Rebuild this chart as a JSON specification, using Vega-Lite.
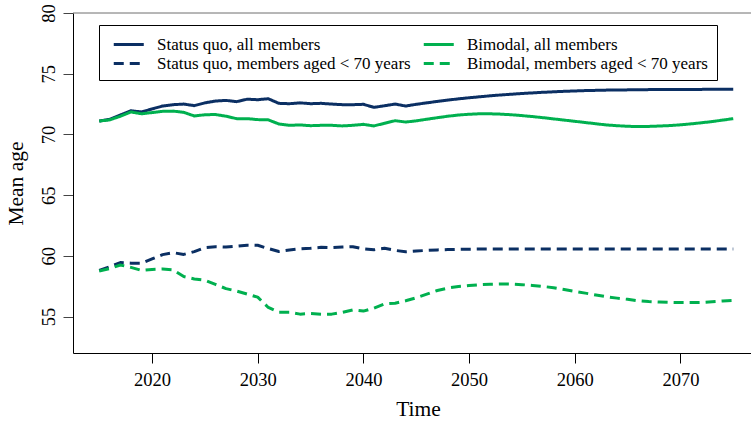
{
  "$schema": "https://vega.github.io/schema/vega-lite/v6.json",
  "width": 678,
  "height": 340,
  "autosize": {"type": "none"},
  "padding": {"left": 73, "top": 13, "right": 0, "bottom": 69},
  "background": "white",
  "config": {
    "font": "Liberation Serif",
    "view": {"stroke": null},
    "axis": {
      "grid": false,
      "labelFont": "Liberation Serif",
      "titleFont": "Liberation Serif",
      "labelColor": "black",
      "titleColor": "black",
      "titleFontWeight": "normal",
      "labelFontSize": 18.5,
      "titleFontSize": 21.5,
      "domainColor": "black",
      "domainWidth": 1,
      "tickSize": 10,
      "tickWidth": 1
    },
    "axisX": {"tickColor": "black", "labelPadding": 7, "titlePadding": 10},
    "axisY": {"tickColor": "#444", "labelPadding": 5, "titlePadding": 12, "labelAngle": -90, "labelAlign": "center", "labelBaseline": "bottom"}
  },
  "layer": [
    {
      "data": {"values": [{"age": 80}]},
      "mark": {"type": "rule", "color": "#6e6e6e", "strokeWidth": 1},
      "encoding": {
        "y": {
          "field": "age",
          "type": "quantitative",
          "scale": {"domain": [52, 80], "nice": false, "zero": false},
          "axis": {
            "values": [55, 60, 65, 70, 75, 80],
            "labelAngle": -90,
            "title": "Mean age",
            "encode": {"labels": {"update": {"angle": {"value": -90}, "align": {"value": "center"}, "baseline": {"value": "bottom"}}}}
          }
        }
      }
    },
    {
      "data": {"values": [
        {"year": 2015, "series": "Status quo, all members", "age": 71.1},
        {"year": 2016, "series": "Status quo, all members", "age": 71.25},
        {"year": 2017, "series": "Status quo, all members", "age": 71.6},
        {"year": 2018, "series": "Status quo, all members", "age": 71.95},
        {"year": 2019, "series": "Status quo, all members", "age": 71.85},
        {"year": 2020, "series": "Status quo, all members", "age": 72.1},
        {"year": 2021, "series": "Status quo, all members", "age": 72.34},
        {"year": 2022, "series": "Status quo, all members", "age": 72.45},
        {"year": 2023, "series": "Status quo, all members", "age": 72.5},
        {"year": 2024, "series": "Status quo, all members", "age": 72.37},
        {"year": 2025, "series": "Status quo, all members", "age": 72.6},
        {"year": 2026, "series": "Status quo, all members", "age": 72.75},
        {"year": 2027, "series": "Status quo, all members", "age": 72.8},
        {"year": 2028, "series": "Status quo, all members", "age": 72.7},
        {"year": 2029, "series": "Status quo, all members", "age": 72.9},
        {"year": 2030, "series": "Status quo, all members", "age": 72.86},
        {"year": 2031, "series": "Status quo, all members", "age": 72.94},
        {"year": 2032, "series": "Status quo, all members", "age": 72.56},
        {"year": 2033, "series": "Status quo, all members", "age": 72.53},
        {"year": 2034, "series": "Status quo, all members", "age": 72.6},
        {"year": 2035, "series": "Status quo, all members", "age": 72.53},
        {"year": 2036, "series": "Status quo, all members", "age": 72.56},
        {"year": 2037, "series": "Status quo, all members", "age": 72.5},
        {"year": 2038, "series": "Status quo, all members", "age": 72.45},
        {"year": 2039, "series": "Status quo, all members", "age": 72.45},
        {"year": 2040, "series": "Status quo, all members", "age": 72.48},
        {"year": 2041, "series": "Status quo, all members", "age": 72.23},
        {"year": 2042, "series": "Status quo, all members", "age": 72.36},
        {"year": 2043, "series": "Status quo, all members", "age": 72.5},
        {"year": 2044, "series": "Status quo, all members", "age": 72.34},
        {"year": 2045, "series": "Status quo, all members", "age": 72.48},
        {"year": 2046, "series": "Status quo, all members", "age": 72.6},
        {"year": 2047, "series": "Status quo, all members", "age": 72.72},
        {"year": 2048, "series": "Status quo, all members", "age": 72.83},
        {"year": 2049, "series": "Status quo, all members", "age": 72.93},
        {"year": 2050, "series": "Status quo, all members", "age": 73.02},
        {"year": 2051, "series": "Status quo, all members", "age": 73.1},
        {"year": 2052, "series": "Status quo, all members", "age": 73.18},
        {"year": 2053, "series": "Status quo, all members", "age": 73.25},
        {"year": 2054, "series": "Status quo, all members", "age": 73.31},
        {"year": 2055, "series": "Status quo, all members", "age": 73.37},
        {"year": 2056, "series": "Status quo, all members", "age": 73.42},
        {"year": 2057, "series": "Status quo, all members", "age": 73.47},
        {"year": 2058, "series": "Status quo, all members", "age": 73.51},
        {"year": 2059, "series": "Status quo, all members", "age": 73.55},
        {"year": 2060, "series": "Status quo, all members", "age": 73.58},
        {"year": 2061, "series": "Status quo, all members", "age": 73.61},
        {"year": 2062, "series": "Status quo, all members", "age": 73.63},
        {"year": 2063, "series": "Status quo, all members", "age": 73.65},
        {"year": 2064, "series": "Status quo, all members", "age": 73.66},
        {"year": 2065, "series": "Status quo, all members", "age": 73.67},
        {"year": 2066, "series": "Status quo, all members", "age": 73.68},
        {"year": 2067, "series": "Status quo, all members", "age": 73.69},
        {"year": 2068, "series": "Status quo, all members", "age": 73.7},
        {"year": 2069, "series": "Status quo, all members", "age": 73.71},
        {"year": 2070, "series": "Status quo, all members", "age": 73.71},
        {"year": 2071, "series": "Status quo, all members", "age": 73.71},
        {"year": 2072, "series": "Status quo, all members", "age": 73.71},
        {"year": 2073, "series": "Status quo, all members", "age": 73.72},
        {"year": 2074, "series": "Status quo, all members", "age": 73.72},
        {"year": 2075, "series": "Status quo, all members", "age": 73.72},

        {"year": 2015, "series": "Bimodal, all members", "age": 71.1},
        {"year": 2016, "series": "Bimodal, all members", "age": 71.2},
        {"year": 2017, "series": "Bimodal, all members", "age": 71.5},
        {"year": 2018, "series": "Bimodal, all members", "age": 71.85},
        {"year": 2019, "series": "Bimodal, all members", "age": 71.7},
        {"year": 2020, "series": "Bimodal, all members", "age": 71.8},
        {"year": 2021, "series": "Bimodal, all members", "age": 71.9},
        {"year": 2022, "series": "Bimodal, all members", "age": 71.92},
        {"year": 2023, "series": "Bimodal, all members", "age": 71.82},
        {"year": 2024, "series": "Bimodal, all members", "age": 71.52},
        {"year": 2025, "series": "Bimodal, all members", "age": 71.62},
        {"year": 2026, "series": "Bimodal, all members", "age": 71.64},
        {"year": 2027, "series": "Bimodal, all members", "age": 71.5},
        {"year": 2028, "series": "Bimodal, all members", "age": 71.3},
        {"year": 2029, "series": "Bimodal, all members", "age": 71.3},
        {"year": 2030, "series": "Bimodal, all members", "age": 71.22},
        {"year": 2031, "series": "Bimodal, all members", "age": 71.2},
        {"year": 2032, "series": "Bimodal, all members", "age": 70.86},
        {"year": 2033, "series": "Bimodal, all members", "age": 70.75},
        {"year": 2034, "series": "Bimodal, all members", "age": 70.78},
        {"year": 2035, "series": "Bimodal, all members", "age": 70.72},
        {"year": 2036, "series": "Bimodal, all members", "age": 70.75},
        {"year": 2037, "series": "Bimodal, all members", "age": 70.75},
        {"year": 2038, "series": "Bimodal, all members", "age": 70.7},
        {"year": 2039, "series": "Bimodal, all members", "age": 70.75},
        {"year": 2040, "series": "Bimodal, all members", "age": 70.83},
        {"year": 2041, "series": "Bimodal, all members", "age": 70.7},
        {"year": 2042, "series": "Bimodal, all members", "age": 70.92},
        {"year": 2043, "series": "Bimodal, all members", "age": 71.13},
        {"year": 2044, "series": "Bimodal, all members", "age": 71.02},
        {"year": 2045, "series": "Bimodal, all members", "age": 71.12},
        {"year": 2046, "series": "Bimodal, all members", "age": 71.25},
        {"year": 2047, "series": "Bimodal, all members", "age": 71.38},
        {"year": 2048, "series": "Bimodal, all members", "age": 71.5},
        {"year": 2049, "series": "Bimodal, all members", "age": 71.6},
        {"year": 2050, "series": "Bimodal, all members", "age": 71.66},
        {"year": 2051, "series": "Bimodal, all members", "age": 71.7},
        {"year": 2052, "series": "Bimodal, all members", "age": 71.7},
        {"year": 2053, "series": "Bimodal, all members", "age": 71.67},
        {"year": 2054, "series": "Bimodal, all members", "age": 71.62},
        {"year": 2055, "series": "Bimodal, all members", "age": 71.55},
        {"year": 2056, "series": "Bimodal, all members", "age": 71.47},
        {"year": 2057, "series": "Bimodal, all members", "age": 71.38},
        {"year": 2058, "series": "Bimodal, all members", "age": 71.28},
        {"year": 2059, "series": "Bimodal, all members", "age": 71.18},
        {"year": 2060, "series": "Bimodal, all members", "age": 71.08},
        {"year": 2061, "series": "Bimodal, all members", "age": 70.98},
        {"year": 2062, "series": "Bimodal, all members", "age": 70.88},
        {"year": 2063, "series": "Bimodal, all members", "age": 70.78},
        {"year": 2064, "series": "Bimodal, all members", "age": 70.72},
        {"year": 2065, "series": "Bimodal, all members", "age": 70.67},
        {"year": 2066, "series": "Bimodal, all members", "age": 70.65},
        {"year": 2067, "series": "Bimodal, all members", "age": 70.66},
        {"year": 2068, "series": "Bimodal, all members", "age": 70.69},
        {"year": 2069, "series": "Bimodal, all members", "age": 70.73},
        {"year": 2070, "series": "Bimodal, all members", "age": 70.79},
        {"year": 2071, "series": "Bimodal, all members", "age": 70.87},
        {"year": 2072, "series": "Bimodal, all members", "age": 70.96},
        {"year": 2073, "series": "Bimodal, all members", "age": 71.06},
        {"year": 2074, "series": "Bimodal, all members", "age": 71.18},
        {"year": 2075, "series": "Bimodal, all members", "age": 71.3},

        {"year": 2015, "series": "Status quo, members aged < 70 years", "age": 58.8},
        {"year": 2016, "series": "Status quo, members aged < 70 years", "age": 59.1},
        {"year": 2017, "series": "Status quo, members aged < 70 years", "age": 59.45},
        {"year": 2018, "series": "Status quo, members aged < 70 years", "age": 59.4},
        {"year": 2019, "series": "Status quo, members aged < 70 years", "age": 59.4},
        {"year": 2020, "series": "Status quo, members aged < 70 years", "age": 59.75},
        {"year": 2021, "series": "Status quo, members aged < 70 years", "age": 60.1},
        {"year": 2022, "series": "Status quo, members aged < 70 years", "age": 60.26},
        {"year": 2023, "series": "Status quo, members aged < 70 years", "age": 60.12},
        {"year": 2024, "series": "Status quo, members aged < 70 years", "age": 60.35},
        {"year": 2025, "series": "Status quo, members aged < 70 years", "age": 60.68},
        {"year": 2026, "series": "Status quo, members aged < 70 years", "age": 60.75},
        {"year": 2027, "series": "Status quo, members aged < 70 years", "age": 60.72},
        {"year": 2028, "series": "Status quo, members aged < 70 years", "age": 60.79},
        {"year": 2029, "series": "Status quo, members aged < 70 years", "age": 60.88},
        {"year": 2030, "series": "Status quo, members aged < 70 years", "age": 60.87},
        {"year": 2031, "series": "Status quo, members aged < 70 years", "age": 60.6},
        {"year": 2032, "series": "Status quo, members aged < 70 years", "age": 60.36},
        {"year": 2033, "series": "Status quo, members aged < 70 years", "age": 60.48},
        {"year": 2034, "series": "Status quo, members aged < 70 years", "age": 60.58},
        {"year": 2035, "series": "Status quo, members aged < 70 years", "age": 60.63},
        {"year": 2036, "series": "Status quo, members aged < 70 years", "age": 60.7},
        {"year": 2037, "series": "Status quo, members aged < 70 years", "age": 60.68},
        {"year": 2038, "series": "Status quo, members aged < 70 years", "age": 60.72},
        {"year": 2039, "series": "Status quo, members aged < 70 years", "age": 60.75},
        {"year": 2040, "series": "Status quo, members aged < 70 years", "age": 60.58},
        {"year": 2041, "series": "Status quo, members aged < 70 years", "age": 60.5},
        {"year": 2042, "series": "Status quo, members aged < 70 years", "age": 60.62},
        {"year": 2043, "series": "Status quo, members aged < 70 years", "age": 60.45},
        {"year": 2044, "series": "Status quo, members aged < 70 years", "age": 60.34},
        {"year": 2045, "series": "Status quo, members aged < 70 years", "age": 60.4},
        {"year": 2046, "series": "Status quo, members aged < 70 years", "age": 60.45},
        {"year": 2047, "series": "Status quo, members aged < 70 years", "age": 60.49},
        {"year": 2048, "series": "Status quo, members aged < 70 years", "age": 60.52},
        {"year": 2049, "series": "Status quo, members aged < 70 years", "age": 60.54},
        {"year": 2050, "series": "Status quo, members aged < 70 years", "age": 60.55},
        {"year": 2051, "series": "Status quo, members aged < 70 years", "age": 60.56},
        {"year": 2052, "series": "Status quo, members aged < 70 years", "age": 60.56},
        {"year": 2053, "series": "Status quo, members aged < 70 years", "age": 60.56},
        {"year": 2054, "series": "Status quo, members aged < 70 years", "age": 60.56},
        {"year": 2055, "series": "Status quo, members aged < 70 years", "age": 60.56},
        {"year": 2056, "series": "Status quo, members aged < 70 years", "age": 60.56},
        {"year": 2057, "series": "Status quo, members aged < 70 years", "age": 60.56},
        {"year": 2058, "series": "Status quo, members aged < 70 years", "age": 60.56},
        {"year": 2059, "series": "Status quo, members aged < 70 years", "age": 60.56},
        {"year": 2060, "series": "Status quo, members aged < 70 years", "age": 60.56},
        {"year": 2061, "series": "Status quo, members aged < 70 years", "age": 60.56},
        {"year": 2062, "series": "Status quo, members aged < 70 years", "age": 60.56},
        {"year": 2063, "series": "Status quo, members aged < 70 years", "age": 60.56},
        {"year": 2064, "series": "Status quo, members aged < 70 years", "age": 60.56},
        {"year": 2065, "series": "Status quo, members aged < 70 years", "age": 60.56},
        {"year": 2066, "series": "Status quo, members aged < 70 years", "age": 60.56},
        {"year": 2067, "series": "Status quo, members aged < 70 years", "age": 60.56},
        {"year": 2068, "series": "Status quo, members aged < 70 years", "age": 60.56},
        {"year": 2069, "series": "Status quo, members aged < 70 years", "age": 60.56},
        {"year": 2070, "series": "Status quo, members aged < 70 years", "age": 60.56},
        {"year": 2071, "series": "Status quo, members aged < 70 years", "age": 60.56},
        {"year": 2072, "series": "Status quo, members aged < 70 years", "age": 60.56},
        {"year": 2073, "series": "Status quo, members aged < 70 years", "age": 60.56},
        {"year": 2074, "series": "Status quo, members aged < 70 years", "age": 60.56},
        {"year": 2075, "series": "Status quo, members aged < 70 years", "age": 60.56},

        {"year": 2015, "series": "Bimodal, members aged < 70 years", "age": 58.75},
        {"year": 2016, "series": "Bimodal, members aged < 70 years", "age": 58.95},
        {"year": 2017, "series": "Bimodal, members aged < 70 years", "age": 59.25},
        {"year": 2018, "series": "Bimodal, members aged < 70 years", "age": 59.05},
        {"year": 2019, "series": "Bimodal, members aged < 70 years", "age": 58.8},
        {"year": 2020, "series": "Bimodal, members aged < 70 years", "age": 58.88},
        {"year": 2021, "series": "Bimodal, members aged < 70 years", "age": 58.92},
        {"year": 2022, "series": "Bimodal, members aged < 70 years", "age": 58.85},
        {"year": 2023, "series": "Bimodal, members aged < 70 years", "age": 58.3},
        {"year": 2024, "series": "Bimodal, members aged < 70 years", "age": 58.1},
        {"year": 2025, "series": "Bimodal, members aged < 70 years", "age": 58.0},
        {"year": 2026, "series": "Bimodal, members aged < 70 years", "age": 57.65},
        {"year": 2027, "series": "Bimodal, members aged < 70 years", "age": 57.3},
        {"year": 2028, "series": "Bimodal, members aged < 70 years", "age": 57.1},
        {"year": 2029, "series": "Bimodal, members aged < 70 years", "age": 56.85},
        {"year": 2030, "series": "Bimodal, members aged < 70 years", "age": 56.6},
        {"year": 2031, "series": "Bimodal, members aged < 70 years", "age": 55.75},
        {"year": 2032, "series": "Bimodal, members aged < 70 years", "age": 55.35},
        {"year": 2033, "series": "Bimodal, members aged < 70 years", "age": 55.35},
        {"year": 2034, "series": "Bimodal, members aged < 70 years", "age": 55.2},
        {"year": 2035, "series": "Bimodal, members aged < 70 years", "age": 55.25},
        {"year": 2036, "series": "Bimodal, members aged < 70 years", "age": 55.2},
        {"year": 2037, "series": "Bimodal, members aged < 70 years", "age": 55.2},
        {"year": 2038, "series": "Bimodal, members aged < 70 years", "age": 55.35},
        {"year": 2039, "series": "Bimodal, members aged < 70 years", "age": 55.55},
        {"year": 2040, "series": "Bimodal, members aged < 70 years", "age": 55.45},
        {"year": 2041, "series": "Bimodal, members aged < 70 years", "age": 55.7},
        {"year": 2042, "series": "Bimodal, members aged < 70 years", "age": 56.05},
        {"year": 2043, "series": "Bimodal, members aged < 70 years", "age": 56.1},
        {"year": 2044, "series": "Bimodal, members aged < 70 years", "age": 56.3},
        {"year": 2045, "series": "Bimodal, members aged < 70 years", "age": 56.55},
        {"year": 2046, "series": "Bimodal, members aged < 70 years", "age": 56.85},
        {"year": 2047, "series": "Bimodal, members aged < 70 years", "age": 57.15},
        {"year": 2048, "series": "Bimodal, members aged < 70 years", "age": 57.35},
        {"year": 2049, "series": "Bimodal, members aged < 70 years", "age": 57.47},
        {"year": 2050, "series": "Bimodal, members aged < 70 years", "age": 57.55},
        {"year": 2051, "series": "Bimodal, members aged < 70 years", "age": 57.62},
        {"year": 2052, "series": "Bimodal, members aged < 70 years", "age": 57.66},
        {"year": 2053, "series": "Bimodal, members aged < 70 years", "age": 57.68},
        {"year": 2054, "series": "Bimodal, members aged < 70 years", "age": 57.67},
        {"year": 2055, "series": "Bimodal, members aged < 70 years", "age": 57.63},
        {"year": 2056, "series": "Bimodal, members aged < 70 years", "age": 57.56},
        {"year": 2057, "series": "Bimodal, members aged < 70 years", "age": 57.48},
        {"year": 2058, "series": "Bimodal, members aged < 70 years", "age": 57.38},
        {"year": 2059, "series": "Bimodal, members aged < 70 years", "age": 57.23},
        {"year": 2060, "series": "Bimodal, members aged < 70 years", "age": 57.08},
        {"year": 2061, "series": "Bimodal, members aged < 70 years", "age": 56.93},
        {"year": 2062, "series": "Bimodal, members aged < 70 years", "age": 56.78},
        {"year": 2063, "series": "Bimodal, members aged < 70 years", "age": 56.63},
        {"year": 2064, "series": "Bimodal, members aged < 70 years", "age": 56.52},
        {"year": 2065, "series": "Bimodal, members aged < 70 years", "age": 56.42},
        {"year": 2066, "series": "Bimodal, members aged < 70 years", "age": 56.3},
        {"year": 2067, "series": "Bimodal, members aged < 70 years", "age": 56.24},
        {"year": 2068, "series": "Bimodal, members aged < 70 years", "age": 56.2},
        {"year": 2069, "series": "Bimodal, members aged < 70 years", "age": 56.17},
        {"year": 2070, "series": "Bimodal, members aged < 70 years", "age": 56.15},
        {"year": 2071, "series": "Bimodal, members aged < 70 years", "age": 56.15},
        {"year": 2072, "series": "Bimodal, members aged < 70 years", "age": 56.17},
        {"year": 2073, "series": "Bimodal, members aged < 70 years", "age": 56.22},
        {"year": 2074, "series": "Bimodal, members aged < 70 years", "age": 56.28},
        {"year": 2075, "series": "Bimodal, members aged < 70 years", "age": 56.32}
      ]},
      "mark": {"type": "line", "strokeWidth": 3, "strokeJoin": "round", "strokeCap": "butt"},
      "encoding": {
        "x": {
          "field": "year",
          "type": "quantitative",
          "scale": {"domain": [2012.52, 2076.68], "nice": false, "zero": false},
          "axis": {"values": [2020, 2030, 2040, 2050, 2060, 2070], "format": "d", "title": "Time", "titleX": 345}
        },
        "y": {
          "field": "age",
          "type": "quantitative",
          "scale": {"domain": [52, 80], "nice": false, "zero": false},
          "axis": {
            "values": [55, 60, 65, 70, 75, 80],
            "labelAngle": -90,
            "title": "Mean age",
            "encode": {"labels": {"update": {"angle": {"value": -90}, "align": {"value": "center"}, "baseline": {"value": "bottom"}}}}
          }
        },
        "color": {
          "field": "series",
          "type": "nominal",
          "scale": {
            "domain": ["Status quo, all members", "Status quo, members aged < 70 years", "Bimodal, all members", "Bimodal, members aged < 70 years"],
            "range": ["#0b2f63", "#0b2f63", "#00b04f", "#00b04f"]
          },
          "legend": {
            "title": null,
            "orient": "none",
            "legendX": 26,
            "legendY": 12,
            "columns": 2,
            "symbolType": "M-0.5,0H2.66",
            "symbolSize": 361,
            "symbolStrokeWidth": 3,
            "symbolFillColor": "transparent",
            "labelFont": "Liberation Serif",
            "labelFontSize": 17,
            "labelColor": "black",
            "labelOffset": 27.5,
            "labelLimit": 400,
            "columnPadding": 6,
            "rowPadding": 0,
            "padding": 8.5,
            "strokeColor": "black",
            "fillColor": "white"
          }
        },
        "strokeDash": {
          "field": "series",
          "type": "nominal",
          "scale": {
            "domain": ["Status quo, all members", "Status quo, members aged < 70 years", "Bimodal, all members", "Bimodal, members aged < 70 years"],
            "range": [[1, 0], [10, 6], [1, 0], [10, 6]]
          },
          "legend": {
            "title": null,
            "orient": "none",
            "legendX": 26,
            "legendY": 12,
            "columns": 2,
            "symbolType": "M-0.5,0H2.66",
            "symbolSize": 361,
            "symbolStrokeWidth": 3,
            "symbolFillColor": "transparent",
            "labelFont": "Liberation Serif",
            "labelFontSize": 17,
            "labelColor": "black",
            "labelOffset": 27.5,
            "labelLimit": 400,
            "columnPadding": 6,
            "rowPadding": 0,
            "padding": 8.5,
            "strokeColor": "black",
            "fillColor": "white"
          }
        }
      }
    }
  ]
}
